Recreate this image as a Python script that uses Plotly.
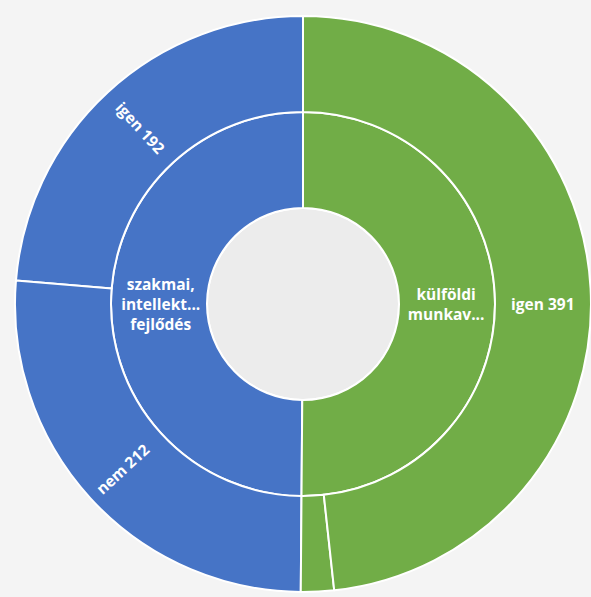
import math
import plotly.graph_objects as go

# Data
parent_labels = ["szakmai, intellektuális fejlődés", "külföldi munkavállalás"]
parent_short = ["szakmai,<br>intellekt...<br>fejlődés", "külföldi<br>munkav..."]
leaf_parents = ["szakmai, intellektuális fejlődés", "szakmai, intellektuális fejlődés",
                "külföldi munkavállalás", "külföldi munkavállalás"]
leaf_labels = ["igen", "nem", "nem", "igen"]
leaf_values = [192, 212, 15, 391]
# how each leaf label is drawn: inside the slice, as a radial annotation, or hidden
leaf_label_mode = ["inside", "annot", "hidden", "inside"]

blue = "#4674C6"
green = "#71AD47"
parent_colors = [blue, green]

W_FIG, H_FIG = 591, 597
M = dict(l=15, r=0, t=11, b=0)
ROTATION = 90

root = "root"
ids = [root]
labels = [""]
parents = [""]
values = [sum(leaf_values)]
texts = [""]
colors = ["#ECECEC"]

for i, p in enumerate(parent_labels):
    ids.append(p)
    labels.append(p)
    parents.append(root)
    values.append(sum(v for v, pp in zip(leaf_values, leaf_parents) if pp == p))
    texts.append(parent_short[i])
    colors.append(parent_colors[i])

for lab, par, val, mode in zip(leaf_labels, leaf_parents, leaf_values, leaf_label_mode):
    ids.append(par + "/" + lab)
    labels.append(lab)
    parents.append(par)
    values.append(val)
    texts.append(f"{lab} {val}" if mode == "inside" else "")
    colors.append(parent_colors[parent_labels.index(par)])

font = dict(family="Open Sans", size=15.5, color="white", weight="bold")

fig = go.Figure(go.Sunburst(
    ids=ids,
    labels=labels,
    parents=parents,
    values=values,
    branchvalues="total",
    sort=False,
    rotation=ROTATION,
    text=texts,
    texttemplate="%{text}",
    insidetextorientation="radial",
    leaf=dict(opacity=1),
    marker=dict(colors=colors, line=dict(color="white", width=2)),
    insidetextfont=font,
    hoverinfo="label+value",
))

# radial annotations for leaf labels that the library would place horizontally
plot_w = W_FIG - M["l"] - M["r"]
plot_h = H_FIG - M["t"] - M["b"]
R = min(plot_w, plot_h) / 2
total = sum(leaf_values)
cum = 0
for lab, val, mode in zip(leaf_labels, leaf_values, leaf_label_mode):
    mid = cum + val / 2
    cum += val
    if mode != "annot":
        continue
    theta = math.radians(ROTATION + mid / total * 360)
    r = R * 0.85
    x = 0.5 + r * math.cos(theta) / plot_w
    y = 0.5 + r * math.sin(theta) / plot_h
    ang = math.degrees(theta) - 180  # reading direction toward centre
    fig.add_annotation(
        x=x, y=y, xref="paper", yref="paper",
        xanchor="center", yanchor="middle",
        text=f"{lab} {val}", showarrow=False,
        textangle=-ang, font=font,
    )

fig.update_layout(
    width=W_FIG,
    height=H_FIG,
    margin=M,
    paper_bgcolor="#F4F4F4",
    plot_bgcolor="#F4F4F4",
    showlegend=False,
)

fig.write_html(
    "out.html",
    config={"displayModeBar": False},
    post_script="document.body.style.margin='0';document.body.style.overflow='hidden';",
)
